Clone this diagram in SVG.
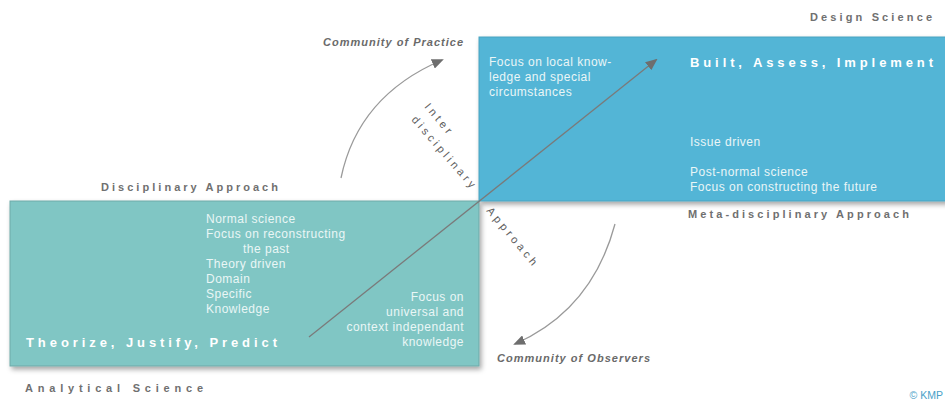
<svg xmlns="http://www.w3.org/2000/svg" width="945" height="403" viewBox="0 0 945 403">
<defs>
<filter id="sh" x="-5%" y="-10%" width="110%" height="125%">
<feDropShadow dx="2" dy="3" stdDeviation="2.5" flood-color="#000" flood-opacity="0.35"/>
</filter>
<marker id="ah" markerWidth="12" markerHeight="10" refX="10" refY="5" orient="auto" markerUnits="userSpaceOnUse">
<path d="M0,0 L12,5 L0,10 Z" fill="#6e6e6e"/>
</marker>
<style>
.lbl{font-family:"Liberation Sans",Arial,sans-serif;font-weight:bold;font-size:11px;fill:#707070}
.it{font-family:"Liberation Sans",Arial,sans-serif;font-weight:bold;font-style:italic;font-size:11px;fill:#6a6a6a}
.bx{font-family:"Liberation Sans",Arial,sans-serif;font-size:12px;letter-spacing:0.5px;fill:#eaf6f6}
.ttl{font-family:"Liberation Sans",Arial,sans-serif;font-weight:bold;font-size:13px;fill:#ffffff}
.rot{font-family:"Liberation Sans",Arial,sans-serif;font-size:11px;fill:#5e5e5e}
.ln{fill:none;stroke:#7a7a7a;stroke-width:1.3}
.cv{fill:none;stroke:#9a9a9a;stroke-width:1.3}
</style>
</defs>
<rect width="945" height="403" fill="#ffffff"/>

<g id="analytical">
<rect x="10" y="201" width="469" height="165" fill="#80c6c4" stroke="#6fa9a8" stroke-width="1" filter="url(#sh)"/>
<text class="bx" x="206" y="223">Normal science</text>
<text class="bx" x="206" y="238">Focus on reconstructing</text>
<text class="bx" x="243" y="253">the past</text>
<text class="bx" x="206" y="268">Theory driven</text>
<text class="bx" x="206" y="283">Domain</text>
<text class="bx" x="206" y="298">Specific</text>
<text class="bx" x="206" y="313">Knowledge</text>
<text class="bx" x="464" y="301" text-anchor="end">Focus on</text>
<text class="bx" x="464" y="316" text-anchor="end">universal and</text>
<text class="bx" x="464" y="331" text-anchor="end">context independant</text>
<text class="bx" x="464" y="346" text-anchor="end">knowledge</text>
<text class="ttl" x="26" y="347" textLength="251" lengthAdjust="spacing">Theorize, Justify, Predict</text>
</g>

<g id="design">
<rect x="479" y="37" width="470" height="164" fill="#52b5d6" stroke="#4aa3c0" stroke-width="1" filter="url(#sh)"/>
<text class="bx" x="489" y="66">Focus on local know-</text>
<text class="bx" x="489" y="81">ledge and special</text>
<text class="bx" x="489" y="96">circumstances</text>
<text class="ttl" x="690" y="67" textLength="243" lengthAdjust="spacing">Built, Assess, Implement</text>
<text class="bx" x="690" y="146">Issue driven</text>
<text class="bx" x="690" y="176">Post-normal science</text>
<text class="bx" x="690" y="191">Focus on constructing the future</text>
</g>

<g id="labels">
<text class="lbl" x="810" y="21" textLength="122" lengthAdjust="spacing">Design Science</text>
<text class="lbl" x="101" y="191" textLength="177" lengthAdjust="spacing">Disciplinary Approach</text>
<text class="lbl" x="688" y="218" textLength="221" lengthAdjust="spacing">Meta-disciplinary Approach</text>
<text class="lbl" x="25" y="392" textLength="178" lengthAdjust="spacing">Analytical Science</text>
<text class="it" x="323" y="46" textLength="140" lengthAdjust="spacing">Community of Practice</text>
<text class="it" x="497" y="362" textLength="153" lengthAdjust="spacing">Community of Observers</text>
<text x="943" y="399" text-anchor="end" font-family="Liberation Sans, Arial, sans-serif" font-size="10.5" fill="#4a9fc8">© KMP</text>
<text class="rot" transform="translate(424,107) rotate(50)" textLength="36" lengthAdjust="spacing">Inter</text>
<text class="rot" transform="translate(411,120) rotate(49)" textLength="91" lengthAdjust="spacing">disciplinary</text>
<text class="rot" transform="translate(486,211) rotate(50)" textLength="72" lengthAdjust="spacing">Approach</text>
</g>

<g id="connectors">
<line class="ln" x1="309" y1="337" x2="656" y2="60" marker-end="url(#ah)"/>
<path class="cv" d="M341,178 Q358,96 442,60" marker-end="url(#ah)"/>
<path class="cv" d="M615,224 Q592,310 515,344" marker-end="url(#ah)"/>
</g>
</svg>
